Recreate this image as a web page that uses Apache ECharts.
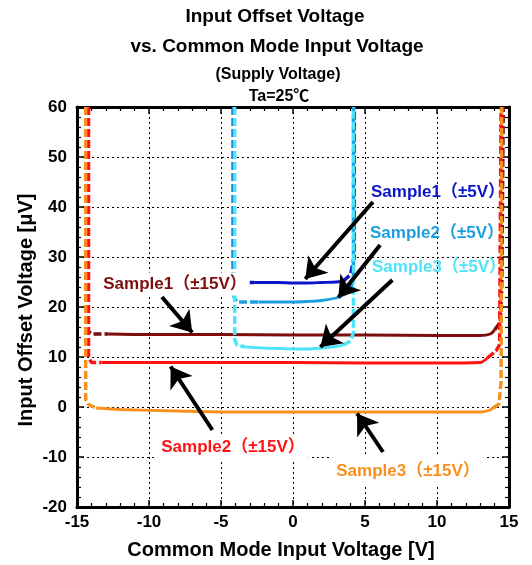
<!DOCTYPE html>
<html>
<head>
<meta charset="utf-8">
<script src="https://cdn.jsdelivr.net/npm/echarts@6/dist/echarts.min.js"></script>
<style>
  html, body { margin: 0; padding: 0; background: #fff; }
  #chart { width: 532px; height: 565px; }
</style>
</head>
<body>
<div id="chart"></div>
<script>
  // x = common mode input voltage [V], y = input offset voltage [uV]
  // solid = measured region, dashed = edge region (left / right, null splits them)

  var s1_15_solid = [[-12.8, 14.6], [-10, 14.5], [-5, 14.5], [0, 14.4], [5, 14.4], [10, 14.3], [13.0, 14.3], [13.7, 14.6], [14.0, 15.4]];
  var s1_15_dash = [[-14.3, 60], [-14.3, 15.4], [-14.0, 14.6], [-12.8, 14.6], null,
                    [14.0, 15.4], [14.4, 17], [14.5, 25], [14.6, 60]];

  var s2_15_solid = [[-13.3, 8.9], [-10, 8.9], [-5, 8.9], [0, 8.9], [5, 8.8], [10, 8.8], [13.0, 8.9], [13.5, 9.8]];
  var s2_15_dash = [[-14.2, 60], [-14.2, 10], [-14.0, 8.9], [-13.3, 8.9], null,
                    [13.5, 9.8], [14.1, 11.2], [14.35, 12.5], [14.45, 60]];

  var s3_15_solid = [[-13.7, -0.2], [-12, -0.5], [-8, -0.8], [-4, -1.0], [0, -1.0], [5, -1.0], [10, -1.0], [13.0, -1.0], [13.6, -0.7], [13.9, -0.2]];
  var s3_15_dash = [[-14.4, 60], [-14.4, 1.5], [-14.2, 0.5], [-13.7, -0.2], null,
                    [13.9, -0.2], [14.3, 0.6], [14.45, 5], [14.5, 60]];

  var s1_5_solid = [[-2.7, 24.9], [-1, 24.9], [0, 24.8], [1, 24.8], [2, 24.9], [3, 25.0], [3.5, 25.2]];
  var s1_5_dash = [[-4.15, 60], [-4.15, 26], [-3.9, 24.9], [-2.7, 24.9], null,
                   [3.5, 25.2], [4.0, 26.5], [4.25, 30], [4.25, 60]];

  var s2_5_solid = [[-2.4, 21.0], [-1, 21.0], [0, 21.0], [1, 21.1], [2, 21.3], [3, 21.8], [3.5, 22.4]];
  var s2_5_dash = [[-4.1, 60], [-4.1, 22], [-3.9, 21.0], [-2.4, 21.0], null,
                   [3.5, 22.4], [4.0, 23.5], [4.2, 26], [4.2, 60]];

  var s3_5_solid = [[-3.3, 12.0], [-2, 11.8], [-1, 11.7], [0, 11.6], [1, 11.6], [2, 11.8], [3, 12.1], [3.5, 12.4]];
  var s3_5_dash = [[-4.05, 60], [-4.05, 13.5], [-3.9, 12.4], [-3.3, 12.0], null,
                   [3.5, 12.4], [4.0, 13.2], [4.2, 15], [4.2, 60]];

  // annotation arrows: [from, to] in data coords
  var arrows = [
    [[5.55, 41.0], [0.85, 25.6]],
    [[6.05, 32.4], [3.15, 21.9]],
    [[6.9, 25.4], [1.9, 12.0]],
    [[-9.1, 22.0], [-7.0, 14.9]],
    [[-5.6, -4.6], [-8.5, 8.1]],
    [[6.25, -9.0], [4.45, -1.3]]
  ];

  var xTicks = [-15, 15, 5];
  var yTicks = [-20, 60, 10];

  var FONT = '"Liberation Sans", Arial, "Noto Sans CJK JP", sans-serif';
  var C = {
    s1_15: '#7d0c0c',
    s2_15: '#ff1212',
    s3_15: '#f7901e',
    s1_5: '#0c14c8',
    s2_5: '#1a9ee2',
    s3_5: '#4ce4f6'
  };

  function solid(data, color) {
    return {
      type: 'line', data: data, symbol: 'none', smooth: 0.3,
      lineStyle: { color: color, width: 2.8 }, z: 3
    };
  }
  function dashed(data, color) {
    return {
      type: 'line', data: data, symbol: 'none', connectNulls: false,
      lineStyle: { color: color, width: 3.5, type: [8, 3] }, z: 3
    };
  }

  function axisX(pos, labels) {
    return {
      type: 'value', position: pos, min: xTicks[0], max: xTicks[1], interval: xTicks[2],
      axisLine: { show: true, onZero: false, lineStyle: { color: '#000', width: 3 } },
      axisTick: { show: true, inside: true, length: 7, lineStyle: { color: '#000', width: 1.5 } },
      minorTick: { show: true, splitNumber: 5, length: 4, lineStyle: { color: '#000', width: 1.2 } },
      axisLabel: { show: labels, color: '#000', fontSize: 17, fontWeight: 'bold', fontFamily: FONT, margin: 7 },
      splitLine: { show: labels, lineStyle: { color: '#000', width: 1, type: [2, 3] } }
    };
  }
  function axisY(pos, labels) {
    return {
      type: 'value', position: pos, min: yTicks[0], max: yTicks[1], interval: yTicks[2],
      axisLine: { show: true, onZero: false, lineStyle: { color: '#000', width: 3 } },
      axisTick: { show: true, inside: true, length: 7, lineStyle: { color: '#000', width: 1.5 } },
      minorTick: { show: true, splitNumber: 5, length: 4, lineStyle: { color: '#000', width: 1.2 } },
      axisLabel: { show: labels, color: '#000', fontSize: 17, fontWeight: 'bold', fontFamily: FONT, margin: 10 },
      splitLine: { show: labels, lineStyle: { color: '#000', width: 1, type: [2, 3] } }
    };
  }

  function label(text, x, y, color, pad) {
    var st = {
      text: text, fill: color, font: 'bold 17px ' + FONT,
      textAlign: 'center', textVerticalAlign: 'middle'
    };
    if (pad) {
      st.backgroundColor = '#fff';
      st.padding = pad;
    }
    return { type: 'text', x: x, y: y, z: 20, style: st };
  }
  function plainText(text, x, y, size, rot) {
    return {
      type: 'text', x: x, y: y, z: 20, rotation: rot || 0,
      style: {
        text: text, fill: '#000', font: 'bold ' + size + 'px ' + FONT,
        textAlign: 'center', textVerticalAlign: 'middle'
      }
    };
  }

  var chart = echarts.init(document.getElementById('chart'));
  chart.setOption({
    animation: false,
    backgroundColor: '#fff',
    grid: { left: 77, right: 23, top: 107, bottom: 58 },
    xAxis: [axisX('bottom', true), axisX('top', false)],
    yAxis: [axisY('left', true), axisY('right', false)],
    graphic: [
      plainText('Input Offset Voltage', 275, 17, 19),
      plainText('vs. Common Mode Input Voltage', 277, 47, 19),
      plainText('(Supply Voltage)', 278, 75, 16),
      plainText('Ta=25℃', 279, 97, 16),
      plainText('Common Mode Input Voltage [V]', 281, 550, 20),
      plainText('Input Offset Voltage [μV]', 26, 310, 20, Math.PI / 2),
      label('Sample1（±5V）', 438, 192, C.s1_5),
      label('Sample2（±5V）', 437, 233, C.s2_5),
      label('Sample3（±5V）', 439, 267, C.s3_5),
      label('Sample1（±15V）', 175, 284, C.s1_15, [3, 3]),
      label('Sample2（±15V）', 233, 447, C.s2_15, [4, 4]),
      label('Sample3（±15V）', 408, 471, C.s3_15, [7, 4])
    ],
    series: [
      dashed(s1_15_dash, C.s1_15),
      dashed(s2_15_dash, C.s2_15),
      dashed(s3_15_dash, C.s3_15),
      solid(s1_15_solid, C.s1_15),
      solid(s2_15_solid, C.s2_15),
      solid(s3_15_solid, C.s3_15),
      dashed(s1_5_dash, C.s1_5),
      dashed(s2_5_dash, C.s2_5),
      dashed(s3_5_dash, C.s3_5),
      solid(s1_5_solid, C.s1_5),
      solid(s2_5_solid, C.s2_5),
      solid(s3_5_solid, C.s3_5),
      {
        type: 'line', data: [], z: 5,
        markLine: {
          silent: true, animation: false,
          symbol: ['none', 'arrow'], symbolSize: 20,
          label: { show: false },
          lineStyle: { color: '#000', width: 4, type: 'solid' },
          data: arrows.map(function (a) {
            return [{ coord: a[0] }, { coord: a[1] }];
          })
        }
      }
    ]
  });
</script>
</body>
</html>
